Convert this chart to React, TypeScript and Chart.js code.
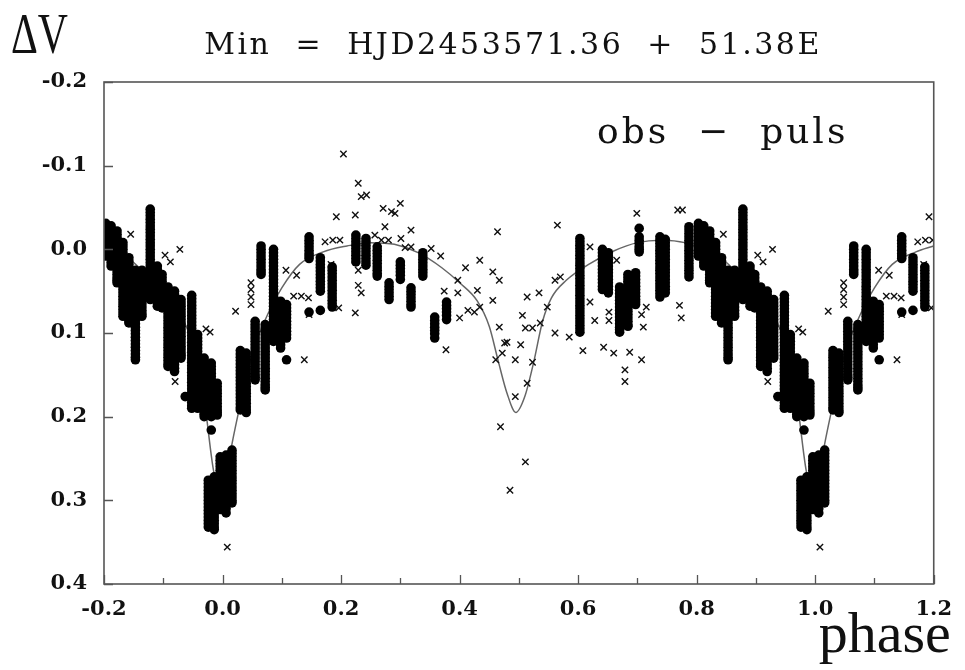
import React, { useEffect, useRef } from "react";
import { Chart, registerables } from "chart.js";

Chart.register(...registerables);

// ---- text ----
const titleText = "Min  =  HJD2453571.36  +  51.38E";
const yAxisTitle = "ΔV";
const xAxisTitle = "phase";
const panelLabel = "obs  −  puls";

// ---- axes ----
const xTickValues = [-0.2, 0.0, 0.2, 0.4, 0.6, 0.8, 1.0, 1.2];
const xTickLabels = ["-0.2", "0.0", "0.2", "0.4", "0.6", "0.8", "1.0", "1.2"];
const xMinorTickValues = [-0.1, 0.1, 0.3, 0.5, 0.7, 0.9, 1.1];
const yTickValues = [-0.2, -0.1, 0.0, 0.1, 0.2, 0.3, 0.4];
const yTickLabels = ["-0.2", "-0.1", "0.0", "0.1", "0.2", "0.3", "0.4"];

// ---- model light curve (phase, ΔV) ----
const curvePhase = [-0.2, -0.16, -0.12, -0.08, -0.05, -0.03, -0.015, 0.0, 0.015, 0.03, 0.05, 0.08, 0.1, 0.13, 0.17,
  0.21, 0.25, 0.29, 0.33, 0.37, 0.4, 0.43, 0.45, 0.465, 0.48, 0.495, 0.51, 0.525, 0.54, 0.555, 0.58,
  0.62, 0.66, 0.7, 0.74, 0.78, 0.84, 0.88, 0.92, 0.95, 0.97, 0.985, 1.0, 1.015, 1.03, 1.05, 1.08, 1.1, 1.13, 1.17, 1.2];
const curveMag = [-0.004, 0.010, 0.037, 0.068, 0.115, 0.185, 0.265, 0.295, 0.236, 0.185, 0.125, 0.072, 0.046, 0.018, 0.003,
  -0.004, -0.008, -0.006, 0.004, 0.022, 0.040, 0.062, 0.092, 0.133, 0.172, 0.195, 0.176, 0.135, 0.086, 0.058, 0.037,
  0.017, 0.002, -0.008, -0.011, -0.008, 0.010, 0.037, 0.068, 0.115, 0.185, 0.265, 0.295, 0.236, 0.185, 0.125, 0.072, 0.046, 0.018, 0.003, -0.004];

// ---- observations, filled circles: [phase, ΔV, ΔV, ...] (phase 0..1, shown folded) ----
const dotRuns: number[][] = [
  [0.006, 0.246, 0.250, 0.254, 0.258, 0.262, 0.266, 0.270, 0.274, 0.278, 0.282, 0.286, 0.290, 0.294, 0.298, 0.302, 0.306, 0.310, 0.315],
  [0.016, 0.240, 0.244, 0.248, 0.252, 0.256, 0.260, 0.264, 0.268, 0.272, 0.276, 0.280, 0.284, 0.288, 0.292, 0.296, 0.300, 0.303],
  [0.030, 0.121, 0.125, 0.129, 0.133, 0.137, 0.141, 0.145, 0.149, 0.153, 0.157, 0.161, 0.165, 0.169, 0.173, 0.177, 0.181, 0.185, 0.189, 0.192],
  [0.040, 0.124, 0.128, 0.132, 0.136, 0.140, 0.144, 0.148, 0.152, 0.156, 0.160, 0.164, 0.168, 0.172, 0.176, 0.180, 0.184, 0.188, 0.192, 0.195],
  [0.055, 0.086, 0.090, 0.094, 0.098, 0.102, 0.106, 0.110, 0.114, 0.118, 0.122, 0.126, 0.130, 0.134, 0.138, 0.142, 0.146, 0.150, 0.153, 0.156],
  [0.065, -0.004, 0.000, 0.004, 0.008, 0.012, 0.016, 0.020, 0.024, 0.027, 0.030],
  [0.072, 0.090, 0.094, 0.098, 0.102, 0.106, 0.110, 0.114, 0.118, 0.122, 0.126, 0.130, 0.134, 0.138, 0.142, 0.146, 0.150, 0.154, 0.158, 0.162, 0.165, 0.168],
  [0.086, 0.000, 0.004, 0.008, 0.012, 0.016, 0.020, 0.024, 0.028, 0.032, 0.036, 0.040, 0.044, 0.048, 0.052, 0.056, 0.060, 0.064, 0.068, 0.072, 0.076, 0.080, 0.084, 0.088, 0.092, 0.096, 0.100, 0.104, 0.108, 0.110],
  [0.098, 0.062, 0.066, 0.070, 0.074, 0.078, 0.082, 0.086, 0.090, 0.094, 0.098, 0.102, 0.106, 0.110, 0.114, 0.118],
  [0.108, 0.066, 0.070, 0.074, 0.078, 0.082, 0.086, 0.090, 0.094, 0.098, 0.102, 0.106, 0.132],
  [0.146, -0.015, -0.011, -0.007, -0.003, 0.001, 0.005, 0.008, 0.011, 0.075],
  [0.165, 0.010, 0.014, 0.018, 0.022, 0.026, 0.030, 0.034, 0.038, 0.042, 0.046, 0.050, 0.073],
  [0.185, 0.021, 0.025, 0.029, 0.033, 0.037, 0.041, 0.045, 0.049, 0.053, 0.057, 0.061, 0.065, 0.069],
  [0.225, -0.017, -0.013, -0.009, -0.005, -0.001, 0.003, 0.007, 0.011, 0.015],
  [0.242, -0.013, -0.009, -0.005, -0.001, 0.003, 0.007, 0.011, 0.015, 0.019],
  [0.261, -0.003, 0.001, 0.005, 0.009, 0.013, 0.017, 0.021, 0.025, 0.029, 0.032],
  [0.281, 0.040, 0.044, 0.048, 0.052, 0.056, 0.060],
  [0.300, 0.015, 0.019, 0.023, 0.027, 0.031, 0.036],
  [0.318, 0.046, 0.050, 0.054, 0.058, 0.062, 0.066, 0.069],
  [0.338, 0.004, 0.008, 0.012, 0.016, 0.020, 0.024, 0.028, 0.032],
  [0.358, 0.081, 0.085, 0.089, 0.093, 0.097, 0.101, 0.106],
  [0.378, 0.063, 0.067, 0.071, 0.075, 0.079, 0.084],
  [0.603, -0.013, -0.009, -0.005, -0.001, 0.003, 0.007, 0.011, 0.015, 0.019, 0.023, 0.027, 0.031, 0.035, 0.039, 0.043, 0.047, 0.051, 0.055, 0.059, 0.063, 0.067, 0.071, 0.075, 0.079, 0.083, 0.087, 0.091, 0.095, 0.099],
  [0.641, 0.000, 0.004, 0.008, 0.012, 0.016, 0.020, 0.024, 0.028, 0.032, 0.036, 0.040, 0.044, 0.048],
  [0.651, 0.004, 0.008, 0.012, 0.016, 0.020, 0.024, 0.028, 0.032, 0.036, 0.040, 0.044, 0.048, 0.052],
  [0.670, 0.045, 0.049, 0.053, 0.057, 0.061, 0.065, 0.069, 0.073, 0.077, 0.081, 0.085, 0.089, 0.093, 0.096, 0.099],
  [0.684, 0.030, 0.034, 0.038, 0.042, 0.046, 0.050, 0.054, 0.058, 0.062, 0.066, 0.070, 0.074, 0.078, 0.082, 0.086, 0.090, 0.092],
  [0.697, 0.028, 0.032, 0.036, 0.040, 0.044, 0.048, 0.052, 0.056, 0.060, 0.063, 0.066],
  [0.703, -0.025, -0.015, -0.011, -0.007, -0.003, 0.000, 0.003],
  [0.738, -0.015, -0.011, -0.007, -0.003, 0.001, 0.005, 0.009, 0.013, 0.017, 0.021, 0.025, 0.029, 0.033, 0.037, 0.041, 0.045, 0.049, 0.053, 0.057],
  [0.747, -0.012, -0.008, -0.004, 0.000, 0.004, 0.008, 0.012, 0.016, 0.020, 0.024, 0.028, 0.032, 0.036, 0.040, 0.044, 0.048, 0.052],
  [0.787, -0.027, -0.023, -0.019, -0.015, -0.011, -0.007, -0.003, 0.001, 0.005, 0.009, 0.013, 0.017, 0.021, 0.025, 0.029, 0.033],
  [0.803, -0.031, -0.027, -0.023, -0.019, -0.015, -0.011, -0.007, -0.003, 0.001, 0.005, 0.008],
  [0.812, -0.028, -0.024, -0.020, -0.016, -0.012, -0.008, -0.004, 0.000, 0.004, 0.008, 0.012, 0.016, 0.020],
  [0.822, -0.022, -0.018, -0.014, -0.010, -0.006, -0.002, 0.002, 0.006, 0.010, 0.014, 0.018, 0.022, 0.026, 0.030, 0.034, 0.037, 0.040],
  [0.832, -0.008, -0.004, 0.000, 0.004, 0.008, 0.012, 0.016, 0.020, 0.024, 0.028, 0.032, 0.036, 0.040, 0.044, 0.048, 0.052, 0.056, 0.060, 0.064, 0.068, 0.072, 0.076, 0.080],
  [0.842, 0.010, 0.014, 0.018, 0.022, 0.026, 0.030, 0.034, 0.038, 0.042, 0.046, 0.050, 0.054, 0.058, 0.062, 0.066, 0.070, 0.074, 0.078, 0.082, 0.085, 0.088],
  [0.853, 0.025, 0.029, 0.033, 0.037, 0.041, 0.045, 0.049, 0.053, 0.057, 0.061, 0.065, 0.069, 0.073, 0.077, 0.081, 0.085, 0.089, 0.093, 0.097, 0.101, 0.105, 0.109, 0.113, 0.117, 0.121, 0.125, 0.129, 0.132],
  [0.864, 0.025, 0.029, 0.033, 0.037, 0.041, 0.045, 0.049, 0.053, 0.057, 0.061, 0.065, 0.069, 0.073, 0.077, 0.080],
  [0.878, -0.048, -0.044, -0.040, -0.036, -0.032, -0.028, -0.024, -0.020, -0.016, -0.012, -0.008, -0.004, 0.000, 0.004, 0.008, 0.012, 0.016, 0.020, 0.024, 0.028, 0.032, 0.036, 0.040, 0.044, 0.048, 0.052, 0.056, 0.060],
  [0.890, 0.020, 0.024, 0.028, 0.032, 0.036, 0.040, 0.044, 0.048, 0.052, 0.056, 0.060, 0.064, 0.068],
  [0.898, 0.030, 0.034, 0.038, 0.042, 0.046, 0.050, 0.054, 0.058, 0.062, 0.066, 0.070],
  [0.908, 0.045, 0.049, 0.053, 0.057, 0.061, 0.065, 0.069, 0.073, 0.077, 0.081, 0.085, 0.089, 0.093, 0.097, 0.101, 0.105, 0.109, 0.113, 0.117, 0.121, 0.125, 0.129, 0.133, 0.137, 0.140],
  [0.919, 0.050, 0.054, 0.058, 0.062, 0.066, 0.070, 0.074, 0.078, 0.082, 0.086, 0.090, 0.094, 0.098, 0.102, 0.106, 0.110, 0.114, 0.118, 0.122, 0.126, 0.130, 0.134, 0.138, 0.142, 0.146],
  [0.930, 0.060, 0.064, 0.068, 0.072, 0.076, 0.080, 0.084, 0.088, 0.092, 0.096, 0.100, 0.104, 0.108, 0.112, 0.116, 0.120, 0.124, 0.127, 0.130],
  [0.937, 0.176],
  [0.948, 0.055, 0.059, 0.063, 0.067, 0.071, 0.075, 0.079, 0.083, 0.087, 0.091, 0.095, 0.099, 0.103, 0.107, 0.111, 0.115, 0.119, 0.123, 0.127, 0.131, 0.135, 0.139, 0.143, 0.147, 0.151, 0.155, 0.159, 0.163, 0.167, 0.171, 0.175, 0.179, 0.183, 0.187, 0.190],
  [0.958, 0.102, 0.106, 0.110, 0.114, 0.118, 0.122, 0.126, 0.130, 0.134, 0.138, 0.142, 0.146, 0.150, 0.154, 0.158, 0.162, 0.166, 0.170, 0.174, 0.178, 0.182, 0.186, 0.190],
  [0.969, 0.130, 0.134, 0.138, 0.142, 0.146, 0.150, 0.154, 0.158, 0.162, 0.166, 0.170, 0.174, 0.178, 0.182, 0.186, 0.190, 0.194, 0.197, 0.200],
  [0.981, 0.136, 0.140, 0.144, 0.148, 0.152, 0.156, 0.160, 0.164, 0.168, 0.172, 0.176, 0.180, 0.184, 0.188, 0.192, 0.196, 0.200, 0.216],
  [0.991, 0.160, 0.164, 0.168, 0.172, 0.176, 0.180, 0.184, 0.188, 0.192, 0.195, 0.198],
  [0.976, 0.276, 0.280, 0.284, 0.288, 0.292, 0.296, 0.300, 0.304, 0.308, 0.312, 0.316, 0.320, 0.324, 0.328, 0.332],
  [0.986, 0.272, 0.276, 0.280, 0.284, 0.288, 0.292, 0.296, 0.300, 0.304, 0.308, 0.312, 0.316, 0.320, 0.324, 0.328, 0.332, 0.335],
  [0.996, 0.248, 0.252, 0.256, 0.260, 0.264, 0.268, 0.272, 0.276, 0.280, 0.284, 0.288, 0.292, 0.296, 0.300, 0.304, 0.308, 0.311],
];

// ---- observations, crosses: [phase, ΔV] (phase 0..1, shown folded) ----
const crossPoints: number[][] = [
  [0.008, 0.356], [0.022, 0.074],
  [0.048, 0.040], [0.048, 0.048], [0.048, 0.057], [0.048, 0.066],
  [0.107, 0.025], [0.125, 0.031], [0.12, 0.056], [0.133, 0.056], [0.145, 0.058], [0.146, 0.078], [0.138, 0.132],
  [0.173, -0.009], [0.186, -0.011], [0.198, -0.011], [0.183, 0.018],
  [0.192, -0.039], [0.204, -0.114], [0.196, 0.07],
  [0.224, -0.041], [0.229, -0.079], [0.234, -0.063], [0.243, -0.065],
  [0.229, 0.025], [0.229, 0.043], [0.234, 0.052], [0.224, 0.076],
  [0.257, -0.017], [0.268, -0.011], [0.28, -0.011], [0.274, -0.027], [0.271, -0.049],
  [0.285, -0.045], [0.291, -0.043], [0.3, -0.055],
  [0.301, -0.013], [0.308, -0.002], [0.318, -0.003], [0.318, -0.023],
  [0.352, -0.001], [0.368, 0.008], [0.374, 0.05],
  [0.397, 0.037], [0.41, 0.022], [0.434, 0.013], [0.464, -0.021], [0.456, 0.027], [0.467, 0.037],
  [0.397, 0.052], [0.43, 0.049], [0.456, 0.061], [0.414, 0.073], [0.425, 0.075], [0.434, 0.069], [0.4, 0.082], [0.377, 0.12], [0.467, 0.093],
  [0.514, 0.057], [0.534, 0.052], [0.506, 0.079], [0.511, 0.094], [0.523, 0.094], [0.536, 0.088], [0.548, 0.069], [0.561, 0.037], [0.57, 0.033], [0.561, 0.1], [0.585, 0.105],
  [0.476, 0.112], [0.48, 0.111], [0.472, 0.124], [0.503, 0.114], [0.494, 0.132], [0.461, 0.132], [0.523, 0.135], [0.514, 0.16], [0.494, 0.176], [0.469, 0.212], [0.511, 0.254], [0.485, 0.288],
  [0.565, -0.029], [0.608, 0.121],
  [0.62, -0.003], [0.665, 0.013], [0.62, 0.063], [0.628, 0.085], [0.652, 0.075], [0.652, 0.085],
  [0.715, 0.069], [0.707, 0.078], [0.71, 0.093], [0.771, 0.067], [0.774, 0.082],
  [0.643, 0.117], [0.66, 0.124], [0.687, 0.123], [0.707, 0.132], [0.679, 0.144], [0.679, 0.158],
  [0.699, -0.043], [0.768, -0.047], [0.776, -0.047],
  [0.845, -0.018], [0.903, 0.007], [0.912, 0.015], [0.928, 0.0], [0.92, 0.158], [0.972, 0.095], [0.979, 0.099],
];

// phase-folded display: observations near the ends are repeated one cycle away
function fold(pairs: number[][]) {
  const out: { x: number; y: number }[] = [];
  for (const [p, m] of pairs) {
    out.push({ x: p, y: m });
    if (p >= 0.8) out.push({ x: p - 1, y: m });
    if (p < 0.2) out.push({ x: p + 1, y: m });
  }
  return out;
}

const decorPlugin = {
  id: "decor",
  afterDraw(chart: any) {
    const { ctx, chartArea: a, scales } = chart;
    const x = scales.x;
    const y = scales.y;
    ctx.save();
    // frame
    ctx.strokeStyle = "#555";
    ctx.lineWidth = 1.6;
    ctx.strokeRect(a.left, a.top, a.right - a.left, a.bottom - a.top);
    // inward ticks
    ctx.beginPath();
    for (const v of yTickValues) {
      const py = Math.round(y.getPixelForValue(v)) + 0.5;
      ctx.moveTo(a.left, py);
      ctx.lineTo(a.left + 9, py);
    }
    for (const v of xTickValues) {
      const px = Math.round(x.getPixelForValue(v)) + 0.5;
      ctx.moveTo(px, a.bottom);
      ctx.lineTo(px, a.bottom - 9);
    }
    for (const v of xMinorTickValues) {
      const px = Math.round(x.getPixelForValue(v)) + 0.5;
      ctx.moveTo(px, a.bottom);
      ctx.lineTo(px, a.bottom - 6);
    }
    ctx.lineWidth = 1.3;
    ctx.stroke();

    ctx.fillStyle = "#111";
    ctx.textBaseline = "alphabetic";
    // title
    ctx.font = "30px 'DejaVu Serif', serif";
    (ctx as any).letterSpacing = "2.5px";
    ctx.textAlign = "center";
    ctx.fillText(titleText, a.left + 0.493 * (a.right - a.left), a.top - 28);
    // panel label
    ctx.font = "36px 'DejaVu Serif', serif";
    (ctx as any).letterSpacing = "3px";
    ctx.textAlign = "left";
    ctx.fillText(panelLabel, a.left + 493, a.top + 61);
    (ctx as any).letterSpacing = "0px";
    // x axis title
    ctx.font = "58px 'Liberation Serif', serif";
    ctx.textAlign = "right";
    ctx.fillText(xAxisTitle, a.right + 17, a.bottom + 68);
    // y axis title (condensed)
    ctx.save();
    ctx.translate(11, a.top - 29);
    ctx.scale(0.72, 1);
    ctx.font = "58px 'Liberation Serif', serif";
    ctx.textAlign = "left";
    ctx.fillText(yAxisTitle, 0, 0);
    ctx.restore();
    ctx.restore();
  },
};

export default function App() {
  const ref = useRef<HTMLCanvasElement>(null);
  useEffect(() => {
    if (!ref.current) return;
    const curve = curvePhase.map((p, i) => ({ x: p, y: curveMag[i] }));
    const dotPairs: number[][] = [];
    for (const run of dotRuns) {
      for (let k = 1; k < run.length; k++) dotPairs.push([run[0], run[k]]);
    }
    const dots = fold(dotPairs);
    const crosses = fold(crossPoints);
    const tickFont = { family: "'DejaVu Serif', serif", size: 21, weight: "bold" as const };
    const chart = new Chart(ref.current, {
      type: "scatter",
      data: {
        datasets: [
          {
            label: "obs (filled)",
            data: dots,
            pointStyle: "circle",
            pointRadius: 4.8,
            pointBorderWidth: 0,
            backgroundColor: "#000",
            borderColor: "#000",
            order: 1,
          },
          {
            label: "obs (cross)",
            data: crosses,
            pointStyle: "crossRot",
            pointRadius: 4.5,
            pointBorderWidth: 1.4,
            borderColor: "#111",
            backgroundColor: "#111",
            order: 2,
          },
          {
            label: "model",
            type: "line",
            data: curve,
            showLine: true,
            pointRadius: 0,
            borderColor: "#666",
            borderWidth: 1.5,
            cubicInterpolationMode: "monotone",
            fill: false,
            order: 3,
          } as any,
        ],
      },
      options: {
        animation: false,
        responsive: false,
        devicePixelRatio: 1,
        events: [],
        layout: { padding: { left: 0, right: 26, top: 82, bottom: 0 } },
        plugins: { legend: { display: false }, tooltip: { enabled: false }, title: { display: false } },
        scales: {
          x: {
            type: "linear",
            min: -0.2,
            max: 1.2,
            grid: { display: false, drawTicks: false },
            border: { display: false },
            afterBuildTicks: (s: any) => {
              s.ticks = xTickValues.map((v) => ({ value: v }));
            },
            afterFit: (s: any) => {
              s.height = 86;
            },
            ticks: {
              padding: 13,
              color: "#111",
              font: tickFont,
              maxRotation: 0,
              autoSkip: false,
              callback: (_v: any, i: number) => xTickLabels[i],
            },
          },
          y: {
            type: "linear",
            reverse: true,
            min: -0.2,
            max: 0.4,
            grid: { display: false, drawTicks: false },
            border: { display: false },
            afterBuildTicks: (s: any) => {
              s.ticks = yTickValues.map((v) => ({ value: v }));
            },
            afterFit: (s: any) => {
              s.width = 104;
            },
            ticks: {
              padding: 17,
              color: "#111",
              font: tickFont,
              autoSkip: false,
              callback: (_v: any, i: number) => yTickLabels[i],
            },
          },
        },
      },
      plugins: [decorPlugin],
    });
    return () => chart.destroy();
  }, []);
  return (
    <div style={{ position: "fixed", left: 0, top: 0, width: 965, height: 670, background: "#fff" }}>
      <canvas ref={ref} width={965} height={670} style={{ display: "block", width: 965, height: 670 }} />
    </div>
  );
}
